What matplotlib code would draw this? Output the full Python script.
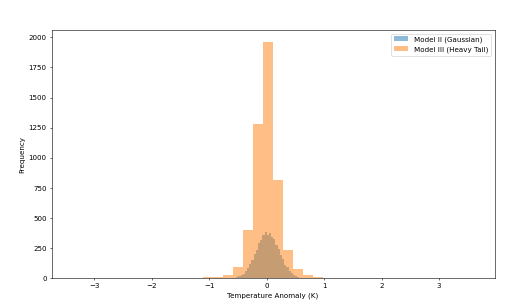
import numpy as np
import matplotlib
matplotlib.use("Agg")
import matplotlib.pyplot as plt

# Model II (Gaussian): 40 bins between these limits
gauss_lo, gauss_hi = -0.72, 0.80
gauss_counts = [1, 0, 2, 4, 6, 12, 17, 30, 41, 65, 86, 123, 154, 204, 238, 291,
                318, 359, 386, 362, 381, 346, 327, 278, 246, 193, 160, 114, 91, 58,
                45, 26, 19, 10, 7, 3, 2, 1, 1, 1]

# Model III (Heavy Tail): 40 bins between these limits
heavy_lo, heavy_hi = -3.395, 3.62
heavy_counts = [2, 0, 0, 0, 0, 2, 3, 2, 3, 4, 3, 4, 7, 12, 14, 30,
                91, 401, 1280, 1962, 817, 235, 75, 30, 12, 5, 4, 3, 2, 2,
                1, 0, 1, 0, 0, 1, 0, 0, 0, 1]

gauss_edges = np.linspace(gauss_lo, gauss_hi, len(gauss_counts) + 1)
heavy_edges = np.linspace(heavy_lo, heavy_hi, len(heavy_counts) + 1)

fig, ax = plt.subplots(figsize=(10, 6), dpi=51)
fig.subplots_adjust(left=0.101, right=0.970, bottom=0.090, top=0.902)

ax.hist(gauss_edges[:-1] + np.diff(gauss_edges) / 2, bins=gauss_edges,
        weights=gauss_counts, alpha=0.5, label="Model II (Gaussian)")
ax.hist(heavy_edges[:-1] + np.diff(heavy_edges) / 2, bins=heavy_edges,
        weights=heavy_counts, alpha=0.5, label="Model III (Heavy Tail)")

ax.set_xlabel("Temperature Anomaly (K)")
ax.set_ylabel("Frequency")
ax.legend(loc="upper right")

fig.savefig("out.png", dpi=51)
